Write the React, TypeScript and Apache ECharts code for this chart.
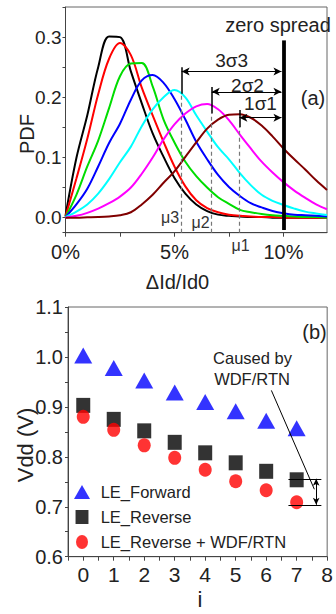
import React, { useEffect, useRef } from "react";
import * as echarts from "echarts";

// ---------- panel (a) data ----------
const X_PCT = [0, 0.5, 1, 1.5, 2, 2.5, 3, 3.5, 4, 4.5, 5, 5.5, 6, 6.5, 7, 7.5, 8, 8.5, 9, 9.5, 10, 10.5, 11, 11.5, 12];
const PDF_BLACK = [0.003, 0.099, 0.17, 0.25, 0.301, 0.3, 0.243, 0.19, 0.14, 0.101, 0.066, 0.04, 0.022, 0.011, 0.005, 0.003, 0.002, 0.001, 0.001, 0, 0, 0, 0, 0, 0];
const PDF_RED = [0.002, 0.065, 0.131, 0.205, 0.264, 0.29, 0.27, 0.216, 0.17, 0.126, 0.085, 0.052, 0.029, 0.016, 0.009, 0.005, 0.003, 0.002, 0.001, 0.001, 0, 0, 0, 0, 0];
const PDF_GREEN = [0.001, 0.038, 0.085, 0.128, 0.182, 0.235, 0.256, 0.257, 0.218, 0.163, 0.125, 0.093, 0.069, 0.05, 0.034, 0.023, 0.013, 0.009, 0.006, 0.004, 0.003, 0.002, 0.001, 0.001, 0];
const PDF_BLUE = [0.001, 0.022, 0.048, 0.085, 0.124, 0.156, 0.196, 0.228, 0.237, 0.224, 0.197, 0.163, 0.126, 0.097, 0.071, 0.051, 0.036, 0.024, 0.017, 0.011, 0.0075, 0.005, 0.004, 0.003, 0.002];
const PDF_CYAN = [0.001, 0.01, 0.022, 0.04, 0.064, 0.092, 0.118, 0.152, 0.18, 0.2, 0.212, 0.2, 0.17, 0.143, 0.117, 0.097, 0.074, 0.054, 0.038, 0.028, 0.021, 0.015, 0.01, 0.007, 0.0045];
const PDF_MAGENTA = [0, 0.003, 0.008, 0.015, 0.024, 0.035, 0.05, 0.073, 0.1, 0.13, 0.155, 0.173, 0.185, 0.189, 0.18, 0.162, 0.138, 0.115, 0.093, 0.075, 0.059, 0.045, 0.033, 0.022, 0.014];
const PDF_BROWN = [0, 0, 0.0005, 0.001, 0.002, 0.004, 0.009, 0.022, 0.038, 0.058, 0.077, 0.101, 0.125, 0.148, 0.163, 0.171, 0.172, 0.166, 0.153, 0.135, 0.115, 0.097, 0.08, 0.062, 0.046];
const CURVE_COLORS = ["#000000", "#ff0000", "#00dd00", "#0000ff", "#00ffff", "#ff00ff", "#800000"];

const ZERO_SPREAD = 10;
const MU_PCT = [5.33, 6.71, 7.98]; // mu3, mu2, mu1
const MU_LABELS = ["\u03bc3", "\u03bc2", "\u03bc1"];
const SIGMA_LABELS = ["3\u03c33", "2\u03c32", "1\u03c31"];
const SIGMA_ARROW_PDF = [0.243, 0.209, 0.166];
const MU_BAR_TOP = [0.25, 0.217, 0.179];
const MU_BAR_BOTTOM = [0.206, 0.173, 0.15];

// ---------- panel (b) data ----------
const I_INDEX = [0, 1, 2, 3, 4, 5, 6, 7];
const LE_FORWARD = [1.003, 0.978, 0.953, 0.929, 0.91, 0.891, 0.872, 0.857];
const LE_REVERSE = [0.903, 0.875, 0.852, 0.829, 0.808, 0.788, 0.771, 0.754];
const LE_REVERSE_WDF = [0.88, 0.854, 0.823, 0.798, 0.774, 0.751, 0.733, 0.709];
const GAP_LEVELS = [0.756, 0.704];

const NARROW = "'Liberation Sans Narrow', 'Arial Narrow', sans-serif";
const REG = "'Liberation Sans', Arial, sans-serif";

const ICON_TRI = "path://M8,0L16,14L0,14Z";
const ICON_SQ = "path://M0,0H12V13H0Z";
const ICON_CIR = "path://M6,0A6,7 0 1,1 6,14A6,7 0 1,1 6,0Z";

export default function App() {
  const ref = useRef<HTMLDivElement>(null);
  useEffect(() => {
    if (!ref.current) return;
    const chart = echarts.init(ref.current, null, { renderer: "svg" });
    const curves = [PDF_BLACK, PDF_RED, PDF_GREEN, PDF_BLUE, PDF_CYAN, PDF_MAGENTA, PDF_BROWN];
    const curveSeries = curves.map((arr, k) => ({
      type: "line",
      xAxisIndex: 0,
      yAxisIndex: 0,
      data: X_PCT.map((x, i) => [x, arr[i]]),
      smooth: 0.35,
      showSymbol: false,
      lineStyle: { color: CURVE_COLORS[k], width: 2 },
      silent: true,
      z: 2,
    }));

    const annotA: any[] = [];
    annotA.push([{ coord: [ZERO_SPREAD, -0.0205] }, { coord: [ZERO_SPREAD, 0.2945], lineStyle: { color: "#000", width: 3.8, type: "solid" } }]);
    MU_PCT.forEach((m, k) => {
      annotA.push([{ coord: [m, -0.025] }, { coord: [m, MU_BAR_BOTTOM[k]], lineStyle: { color: "#777", width: 1.2, type: [4, 3] } }]);
      annotA.push([{ coord: [m, MU_BAR_BOTTOM[k]] }, { coord: [m, MU_BAR_TOP[k]], lineStyle: { color: "#000", width: 1.5, type: "solid" } }]);
    });
    const arrowsA = MU_PCT.map((m, k) => [
      { coord: [m, SIGMA_ARROW_PDF[k]] },
      { coord: [ZERO_SPREAD - 0.09, SIGMA_ARROW_PDF[k]] },
    ]);

    const option: any = {
      animation: false,
      grid: [
        { left: 65.5, top: 7, width: 261.5, height: 225.7, show: true, borderColor: "#666", borderWidth: 1 },
        { left: 68, top: 307, width: 265, height: 249.7, show: true, borderColor: "#666", borderWidth: 1 },
      ],
      xAxis: [
        {
          type: "value", gridIndex: 0, min: 0, max: 12, interval: 2.5,
          axisLine: { show: true, onZero: false, lineStyle: { color: "#444" } },
          axisTick: { show: true, inside: false, length: 4, lineStyle: { color: "#444" } },
          splitLine: { show: false },
          axisLabel: {
            fontFamily: NARROW, fontSize: 20, color: "#222", margin: 9, showMaxLabel: false,
            formatter: (v: number) => (Math.abs(v / 5 - Math.round(v / 5)) < 1e-6 ? v + "%" : ""),
          },
        },
        {
          type: "value", gridIndex: 1, min: -0.5, max: 8, interval: 0.5,
          axisLine: { show: true, onZero: false, lineStyle: { color: "#444" } },
          axisTick: { show: true, inside: false, length: 4, lineStyle: { color: "#444" } },
          splitLine: { show: false },
          axisLabel: {
            fontFamily: REG, fontSize: 21, color: "#222", margin: 7,
            formatter: (v: number) => (Math.abs(v - Math.round(v)) < 1e-6 ? String(Math.round(v)) : ""),
          },
        },
      ],
      yAxis: [
        {
          type: "value", gridIndex: 0, min: -0.025, max: 0.35, minInterval: 0.05, maxInterval: 0.05,
          axisLine: { show: true, onZero: false, lineStyle: { color: "#444" } },
          axisTick: { show: true, inside: false, length: 3, lineStyle: { color: "#444" } },
          splitLine: { show: false },
          axisLabel: {
            fontFamily: REG, fontSize: 19, color: "#222", margin: 4,
            formatter: (v: number) => (Math.abs(v * 10 - Math.round(v * 10)) < 1e-6 ? v.toFixed(1) : ""),
          },
        },
        {
          type: "value", gridIndex: 1, min: 0.6, max: 1.1, interval: 0.05,
          axisLine: { show: true, onZero: false, lineStyle: { color: "#444" } },
          axisTick: { show: true, inside: false, length: 3, lineStyle: { color: "#444" } },
          splitLine: { show: false },
          axisLabel: {
            fontFamily: REG, fontSize: 20, color: "#222", margin: 5,
            formatter: (v: number) => (Math.abs(v * 10 - Math.round(v * 10)) < 1e-6 ? v.toFixed(1) : ""),
          },
        },
      ],
      legend: {
        orient: "vertical", left: 69, top: 478.5, itemGap: 8, itemWidth: 27.4, itemHeight: 14,
        textStyle: { fontFamily: NARROW, fontSize: 16.5, color: "#222" },
        data: [
          { name: "LE_Forward", icon: ICON_TRI },
          { name: "LE_Reverse", icon: ICON_SQ },
          { name: "LE_Reverse + WDF/RTN", icon: ICON_CIR },
        ],
        selectedMode: false,
      },
      series: [
        ...curveSeries,
        {
          type: "line", xAxisIndex: 0, yAxisIndex: 0, data: [], silent: true,
          markLine: { silent: true, symbol: "none", label: { show: false }, animation: false, data: annotA },
        },
        {
          type: "line", xAxisIndex: 0, yAxisIndex: 0, data: [], silent: true,
          markLine: {
            silent: true, symbol: ["arrow", "arrow"], symbolSize: [6, 8], label: { show: false }, animation: false,
            lineStyle: { color: "#000", width: 1.2, type: "solid" }, data: arrowsA,
          },
        },
        {
          name: "LE_Forward", type: "scatter", xAxisIndex: 1, yAxisIndex: 1, symbol: "triangle", symbolSize: [18, 16],
          itemStyle: { color: "#0000ff" }, data: I_INDEX.map((x, i) => [x, LE_FORWARD[i]]),
        },
        {
          name: "LE_Reverse", type: "scatter", xAxisIndex: 1, yAxisIndex: 1, symbol: "rect", symbolSize: [14, 15],
          itemStyle: { color: "#000000" }, data: I_INDEX.map((x, i) => [x, LE_REVERSE[i]]),
        },
        {
          name: "LE_Reverse + WDF/RTN", type: "scatter", xAxisIndex: 1, yAxisIndex: 1, symbol: "circle", symbolSize: [13, 14],
          itemStyle: { color: "#ff0000" }, data: I_INDEX.map((x, i) => [x, LE_REVERSE_WDF[i]]),
          markLine: {
            silent: true, symbol: "none", label: { show: false }, animation: false,
            lineStyle: { color: "#000", width: 1, type: "solid" },
            data: [
              [{ coord: [6.73, GAP_LEVELS[0]] }, { coord: [7.81, GAP_LEVELS[0]] }],
              [{ coord: [6.73, GAP_LEVELS[1]] }, { coord: [7.81, GAP_LEVELS[1]] }],
              [{ coord: [6.17, 0.933] }, { coord: [7.58, 0.735] }],
            ],
          },
        },
        {
          type: "line", xAxisIndex: 1, yAxisIndex: 1, data: [], silent: true,
          markLine: {
            silent: true, symbol: ["arrow", "arrow"], symbolSize: [5, 7], label: { show: false }, animation: false,
            lineStyle: { color: "#000", width: 1, type: "solid" },
            data: [[{ coord: [7.64, GAP_LEVELS[0]] }, { coord: [7.64, GAP_LEVELS[1]] }]],
          },
        },
      ],
      graphic: [
        { type: "text", x: 278, y: 25, style: { text: "zero spread", fontFamily: NARROW, fontSize: 20, fill: "#222", align: "center", verticalAlign: "middle" } },
        ...SIGMA_LABELS.map((t, k) => ({
          type: "text", x: [231.7, 247.5, 260.5][k], y: [60, 85, 103.5][k],
          style: { text: t, fontFamily: NARROW, fontSize: 19, fill: "#222", align: "center", verticalAlign: "middle" },
        })),
        ...MU_LABELS.map((t, k) => ({
          type: "text", x: [170, 200.5, 240.5][k], y: [217, 222, 245][k],
          style: { text: t, fontFamily: NARROW, fontSize: 16, fill: "#333", align: "center", verticalAlign: "middle" },
        })),
        { type: "text", x: 313, y: 98, style: { text: "(a)", fontFamily: NARROW, fontSize: 20, fill: "#222", align: "center", verticalAlign: "middle" } },
        { type: "text", x: 177.5, y: 281.7, style: { text: "\u0394Id/Id0", fontFamily: NARROW, fontSize: 20, fill: "#222", align: "center", verticalAlign: "middle" } },
        { type: "text", x: 26.5, y: 134, rotation: Math.PI / 2, style: { text: "PDF", fontFamily: REG, fontSize: 20, fill: "#222", align: "center", verticalAlign: "middle" } },
        { type: "text", x: 314.5, y: 331.7, style: { text: "(b)", fontFamily: NARROW, fontSize: 20, fill: "#222", align: "center", verticalAlign: "middle" } },
        { type: "text", x: 252.5, y: 358.3, style: { text: "Caused by", fontFamily: NARROW, fontSize: 16.5, fill: "#222", align: "center", verticalAlign: "middle" } },
        { type: "text", x: 252, y: 379, style: { text: "WDF/RTN", fontFamily: NARROW, fontSize: 16.5, fill: "#222", align: "center", verticalAlign: "middle" } },
        { type: "text", x: 25.5, y: 445, rotation: Math.PI / 2, style: { text: "Vdd (V)", fontFamily: REG, fontSize: 22, fill: "#222", align: "center", verticalAlign: "middle" } },
        { type: "text", x: 200, y: 599, style: { text: "i", fontFamily: REG, fontSize: 22, fill: "#222", align: "center", verticalAlign: "middle" } },
      ],
    };
    chart.setOption(option);
    return () => chart.dispose();
  }, []);
  return <div ref={ref} style={{ position: "fixed", left: 0, top: 0, width: 336, height: 614, background: "#fff" }} />;
}
